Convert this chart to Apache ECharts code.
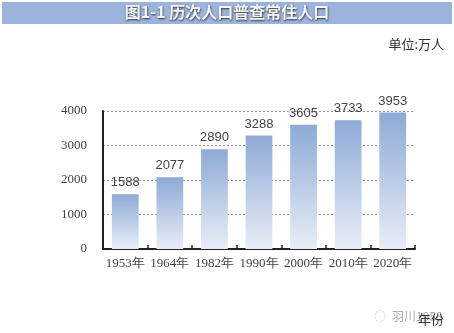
<!DOCTYPE html>
<html><head><meta charset="utf-8">
<script src="https://cdn.jsdelivr.net/npm/echarts@6/dist/echarts.min.js"></script>
<style>html,body{margin:0;padding:0;background:#fff}#c{width:454px;height:333px}</style>
</head><body><div id="c"></div>
<script>
const categories = ['1953年','1964年','1982年','1990年','2000年','2010年','2020年'];
const population = [1588, 2077, 2890, 3288, 3605, 3733, 3953];
const yTicks = [0, 1000, 2000, 3000, 4000];

const chart = echarts.init(document.getElementById('c'), null, {renderer:'canvas'});
chart.setOption({
  animation:false,
  backgroundColor:'#fff',
  graphic:[
    {type:'rect', left:2, top:2, shape:{width:450, height:22}, style:{fill:'#9cb4dc'}},
    {type:'text', left:'center', top:4, style:{text:'图1-1 历次人口普查常住人口', fill:'#f4f6fa', font:'bold 16px "Noto Sans CJK SC"', textShadowColor:'#333', textShadowBlur:2, textShadowOffsetX:0.5, textShadowOffsetY:0.5}},
    {type:'text', right:10, top:38, style:{text:'单位:万人', fill:'#333', font:'13px "Noto Sans CJK SC"'}},
    {type:'text', left:392, top:310, style:{text:'羽川1958', fill:'#aaa', font:'12px "Noto Sans CJK SC"'}},
    {type:'text', left:374, top:310, style:{text:'◌', fill:'#bbb', font:'12px "Noto Sans CJK SC"'}},
    {type:'text', left:418, top:313, style:{text:'年份', fill:'#333', font:'13px "Noto Sans CJK SC"'}}
  ],
  grid:{left:103, right:39, top:111, bottom:84},
  xAxis:{
    type:'category', data:categories,
    axisLine:{lineStyle:{color:'#222', width:2}},
    axisTick:{show:true, inside:true, length:4, lineStyle:{color:'#222', width:1.5}},
    axisLabel:{color:'#444', fontFamily:'Liberation Serif', fontSize:13, margin:8, interval:0}
  },
  yAxis:{
    type:'value', min:yTicks[0], max:yTicks[yTicks.length-1], interval:yTicks[1]-yTicks[0],
    axisLine:{show:true, lineStyle:{color:'#222', width:2}},
    axisTick:{show:false},
    splitLine:{lineStyle:{color:'#999', type:[2,2], width:1}},
    axisLabel:{color:'#444', fontFamily:'Liberation Serif', fontSize:13, margin:16, formatter:v=>String(v)}
  },
  series:[{
    type:'bar', data:population, barWidth:'60%',
    itemStyle:{color:new echarts.graphic.LinearGradient(0,0,0,1,[{offset:0,color:'#8eaad6'},{offset:1,color:'#e8eef7'}])},
    label:{show:true, position:'top', distance:5, color:'#444', fontFamily:'Liberation Sans', fontSize:13}
  }]
});
</script></body></html>
